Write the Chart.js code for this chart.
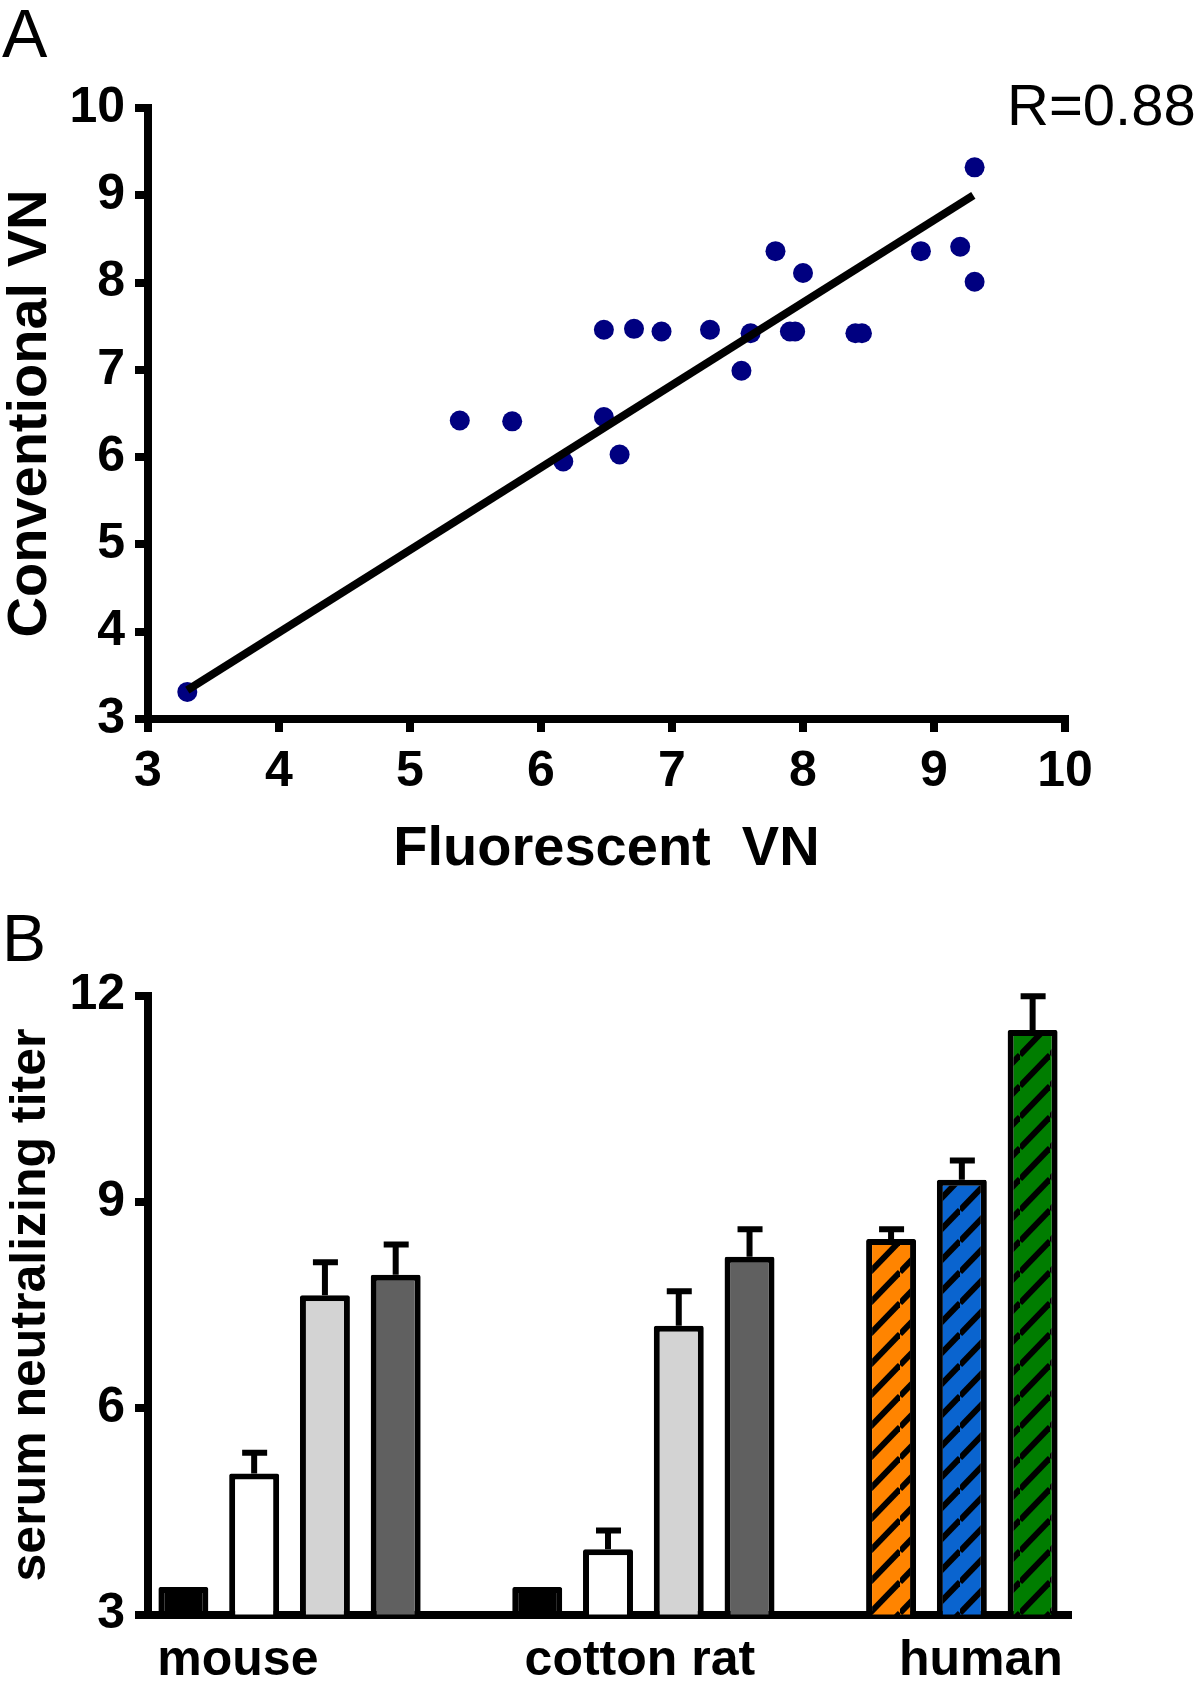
<!DOCTYPE html>
<html>
<head>
<meta charset="utf-8">
<script src="https://cdn.jsdelivr.net/npm/chart.js@4.4.1/dist/chart.umd.min.js"></script>
<style>
  html, body { margin: 0; padding: 0; background: #fff; }
  #page { position: relative; width: 1200px; height: 1688px; overflow: hidden; font-family: "Liberation Sans", Arial, sans-serif; }
  canvas { position: absolute; left: 0; }
  .lbl { position: absolute; line-height: 1; color: #000; white-space: nowrap; }
</style>
</head>
<body>
<div id="page">
  <canvas id="chartA" width="1200" height="900" style="top:0; width:1200px; height:900px"></canvas>
  <canvas id="chartB" width="1200" height="788" style="top:900px; width:1200px; height:788px"></canvas>
  <div class="lbl" style="left:2px; top:-1px; font-size:68px">A</div>
  <div class="lbl" style="left:2px; top:905px; font-size:66px">B</div>
  <div class="lbl" style="left:1007px; top:76px; font-size:58px">R=0.88</div>
</div>
<script>
// ---------- A: fluorescent vs conventional VN ----------
const fluorVN = [3.30, 5.38, 5.78, 6.17, 6.48, 6.60, 6.48, 6.71, 6.92, 7.29, 7.53,
                 7.60, 7.79, 7.90, 7.94, 8.00, 8.40, 8.45, 8.90, 9.20, 9.31, 9.31];
const convVN  = [3.31, 6.42, 6.41, 5.95, 6.46, 6.03, 7.46, 7.47, 7.44, 7.46, 6.99,
                 7.42, 8.36, 7.44, 7.44, 8.11, 7.42, 7.42, 8.36, 8.41, 9.32, 8.01];
const fitX = [3.3, 9.3];
const fitY = [3.33, 9.0];
const vnTicks = [3, 4, 5, 6, 7, 8, 9, 10];

// ---------- B: serum neutralizing titers ----------
const groups   = ["mouse", "cotton rat", "human"];
const groupPos = [0.77, 6.45, 11.27];          // where the group names sit on the slot axis
const barSlot  = [0, 1, 2, 3, 5, 6, 7, 8, 10, 11, 12];
const titer    = [3.40, 5.05, 7.64, 7.94, 3.40, 3.95, 7.20, 8.20, 8.46, 9.32, 11.50];
const titerErr = [0, 0.30, 0.48, 0.44, 0, 0.27, 0.50, 0.40, 0.14, 0.28, 0.49];
const titerTicks = [3, 6, 9, 12];

const FONT = "'Liberation Sans', Arial, sans-serif";
Chart.defaults.font.family = FONT;
Chart.defaults.color = "#000";

const tickFont = { family: FONT, size: 50, weight: "bold", lineHeight: 1.2 };
const axisGrid = { drawOnChartArea: false, drawTicks: true, tickLength: 13, tickWidth: 8,
                   tickColor: "#000", lineWidth: 8, color: "#000" };

// -------------------------------------
// Panel A
// -------------------------------------
new Chart(document.getElementById("chartA"), {
  type: "scatter",
  data: {
    datasets: [
      {
        type: "line",
        data: fitX.map((x, i) => ({ x: x, y: fitY[i] })),
        borderColor: "#000",
        borderWidth: 8,
        pointRadius: 0,
        fill: false
      },
      {
        data: fluorVN.map((x, i) => ({ x: x, y: convVN[i] })),
        backgroundColor: "#000080",
        borderWidth: 0,
        pointRadius: 10,
        pointHoverRadius: 10
      }
    ]
  },
  options: {
    responsive: false,
    animation: false,
    events: [],
    layout: { padding: { top: 108, right: 135, left: 0, bottom: 0 } },
    plugins: { legend: { display: false }, tooltip: { enabled: false } },
    scales: {
      x: {
        type: "linear", min: 3, max: 10,
        afterFit: s => { s.height = 181; },
        afterBuildTicks: s => { s.ticks = vnTicks.map(v => ({ value: v })); },
        grid: axisGrid,
        border: { width: 8, color: "#000" },
        ticks: { font: tickFont, padding: 10, maxRotation: 0, color: "#000" },
        title: { display: true, text: "Fluorescent  VN", color: "#000",
                 font: { family: FONT, size: 56, weight: "bold", lineHeight: 1 },
                 padding: { top: 0, bottom: 22 } }
      },
      y: {
        type: "linear", min: 3, max: 10,
        afterFit: s => { s.width = 148; },
        afterBuildTicks: s => { s.ticks = vnTicks.map(v => ({ value: v })); },
        grid: axisGrid,
        border: { width: 8, color: "#000" },
        ticks: { font: tickFont, padding: 10, color: "#000" },
        title: { display: true, text: "Conventional VN", color: "#000",
                 font: { family: FONT, size: 56, weight: "bold", lineHeight: 1 },
                 padding: { top: 3, bottom: 0 } }
      }
    }
  }
});

// -------------------------------------
// Panel B
// -------------------------------------
const ctxB = document.getElementById("chartB").getContext("2d");

function hatch(color) {
  const c = document.createElement("canvas");
  const w = 30, h = 31;
  c.width = w; c.height = h;
  const g = c.getContext("2d");
  g.fillStyle = color;
  g.fillRect(0, 0, w, h);
  g.strokeStyle = "#000";
  g.lineWidth = 6;
  for (let k = -1; k <= 1; k++) {
    g.beginPath();
    g.moveTo(0, h + k * h);
    g.lineTo(w, k * h);
    g.stroke();
  }
  return ctxB.createPattern(c, "repeat");
}

const fills = ["#000000", "#ffffff", "#d3d3d3", "#606060",
               "#000000", "#ffffff", "#d3d3d3", "#606060",
               hatch("#ff8400"), hatch("#0a64cf"), hatch("#007d00")];

const errorBars = {
  id: "errorBars",
  afterDatasetsDraw(chart) {
    const { ctx, scales: { x, y } } = chart;
    ctx.save();
    ctx.strokeStyle = "#000";
    ctx.lineWidth = 6;
    titer.forEach((v, i) => {
      if (!titerErr[i]) return;
      const px = x.getPixelForValue(barSlot[i]);
      const top = y.getPixelForValue(v + titerErr[i]);
      ctx.beginPath();
      ctx.moveTo(px, y.getPixelForValue(v));
      ctx.lineTo(px, top);
      ctx.moveTo(px - 12, top);
      ctx.lineTo(px + 13, top);
      ctx.stroke();
    });
    ctx.restore();
  }
};

new Chart(ctxB, {
  type: "bar",
  data: {
    datasets: [{
      data: barSlot.map((s, i) => ({ x: s, y: titer[i] })),
      backgroundColor: fills,
      borderColor: "#000",
      borderWidth: 6,
      borderSkipped: false,
      borderRadius: 2,
      barPercentage: 0.706,
      categoryPercentage: 1
    }]
  },
  options: {
    responsive: false,
    animation: false,
    events: [],
    layout: { padding: { top: 95.5, right: 132, left: 0, bottom: 0 } },
    plugins: { legend: { display: false }, tooltip: { enabled: false } },
    scales: {
      x: {
        type: "linear", min: -0.5, max: 12.5, offset: false,
        afterFit: s => { s.height = 73.5; },
        afterBuildTicks: s => { s.ticks = groupPos.map(v => ({ value: v })); },
        grid: { drawOnChartArea: false, drawTicks: false, lineWidth: 8, color: "#000" },
        border: { width: 8, color: "#000" },
        ticks: { font: tickFont, padding: 17, maxRotation: 0, autoSkip: false, color: "#000",
                 callback: (v, i) => groups[i] }
      },
      y: {
        type: "linear", min: 3, max: 12,
        afterFit: s => { s.width = 148; },
        afterBuildTicks: s => { s.ticks = titerTicks.map(v => ({ value: v })); },
        grid: axisGrid,
        border: { width: 8, color: "#000" },
        ticks: { font: tickFont, padding: 10, color: "#000" },
        title: { display: true, text: "serum neutralizing titer", color: "#000",
                 font: { family: FONT, size: 50, weight: "bold", lineHeight: 1 },
                 padding: { top: 6, bottom: 0 } }
      }
    }
  },
  plugins: [errorBars]
});
</script>
</body>
</html>
